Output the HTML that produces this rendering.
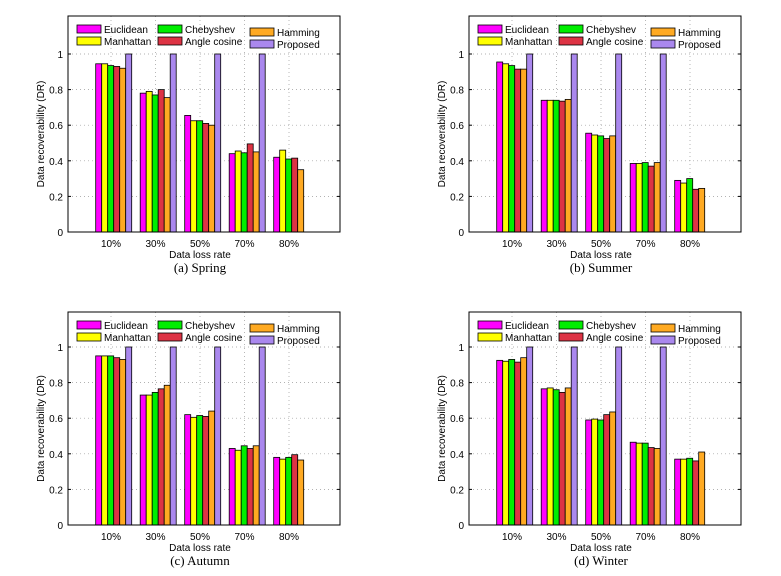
<!DOCTYPE html>
<html><head><meta charset="utf-8"><style>
body{margin:0;background:#fff;overflow:hidden;}
svg{display:block;font-family:"Liberation Sans",Arial,sans-serif;}
</style></head><body>
<svg id="fig" width="781" height="576" viewBox="0 0 781 576"></svg>
<script>
const categories = ["10%","30%","50%","70%","80%"];
const seriesNames = ["Euclidean","Manhattan","Chebyshev","Angle cosine","Hamming","Proposed"];
const yTicks = [0,0.2,0.4,0.6,0.8,1];
const yTickLabels = ["0","0.2","0.4","0.6","0.8","1"];
const springData = [
 [0.945,0.78,0.655,0.44,0.42],
 [0.945,0.79,0.625,0.455,0.46],
 [0.935,0.77,0.625,0.445,0.41],
 [0.93,0.80,0.61,0.495,0.415],
 [0.92,0.755,0.60,0.45,0.35],
 [1,1,1,1,0]];
const summerData = [
 [0.955,0.74,0.555,0.385,0.29],
 [0.945,0.74,0.545,0.385,0.275],
 [0.935,0.74,0.54,0.39,0.30],
 [0.915,0.735,0.525,0.37,0.24],
 [0.915,0.745,0.54,0.39,0.245],
 [1,1,1,1,0]];
const autumnData = [
 [0.95,0.73,0.62,0.43,0.38],
 [0.95,0.73,0.605,0.42,0.37],
 [0.95,0.745,0.615,0.445,0.38],
 [0.94,0.765,0.61,0.43,0.395],
 [0.93,0.785,0.64,0.445,0.365],
 [1,1,1,1,0]];
const winterData = [
 [0.925,0.765,0.59,0.465,0.37],
 [0.92,0.77,0.595,0.46,0.37],
 [0.93,0.76,0.59,0.46,0.375],
 [0.915,0.745,0.62,0.435,0.36],
 [0.94,0.77,0.635,0.43,0.41],
 [1,1,1,1,0]];
const panelCaptions = ["(a)  Spring","(b)  Summer","(c)  Autumn","(d)  Winter"];
const panelNames = ["spring","summer","autumn","winter"];
const allData = [springData,summerData,autumnData,winterData];
const colors = ["#ff00ff","#ffff00","#00ee00","#dd3344","#ffaa22","#aa88ee"];
const panels = [
 {l:68,r:340,t:16,z:232},{l:469,r:741,t:16,z:232},
 {l:68,r:340,t:312,z:525},{l:469,r:741,t:312,z:525}];
const NS="http://www.w3.org/2000/svg";
const svg=document.getElementById('fig');
function mk(tag,attrs,parent){const e=document.createElementNS(NS,tag);for(const k in attrs)e.setAttribute(k,attrs[k]);parent.appendChild(e);return e;}
panels.forEach((p,pi)=>{
 const g=mk('g',{},svg);
 
 
 const ys=v=>p.z-v*178;
 const tickX=i=>p.l+43+i*44.5;
 const barW=6;
 yTicks.forEach((t,i)=>{
  if(t>0){const gl=mk('line',{x1:p.l,x2:p.r,y1:ys(t),y2:ys(t),stroke:'#999','stroke-width':0.7,'stroke-dasharray':'1,3'},g);
   }
  mk('line',{x1:p.l,x2:p.l+3,y1:ys(t),y2:ys(t),stroke:'#000'},g);
  mk('line',{x1:p.r,x2:p.r-3,y1:ys(t),y2:ys(t),stroke:'#000'},g);
  const tl=mk('text',{x:p.l-5,y:ys(t)+4,'text-anchor':'end','font-size':10},g);
  tl.textContent=yTickLabels[i];
  
 });
 categories.forEach((c,i)=>{
  const x=tickX(i);
  const vl=mk('line',{x1:x,x2:x,y1:p.t,y2:p.z,stroke:'#999','stroke-width':0.7,'stroke-dasharray':'1,3'},g);
  
  const tl=mk('text',{x:x,y:p.z+15,'text-anchor':'middle','font-size':10},g);
  tl.textContent=c;
  
 });
 const data=allData[pi];
 data.forEach((ser,si)=>{
  ser.forEach((v,ci)=>{
   if(v<=0)return;
   const cx=tickX(ci)+2.7;
   const x=cx-3*barW+si*barW;
   const b=mk('rect',{x:x,y:ys(v),width:barW,height:p.z-ys(v),fill:colors[si],stroke:'#000','stroke-width':0.8},g);
   
   
  });
 });
 const bx=mk('rect',{x:p.l,y:p.t,width:p.r-p.l,height:p.z-p.t,fill:'none',stroke:'#000','stroke-width':1},g);
 
 const lg=mk('g',{},g);
 
 const lpos=[[9,13],[9,25],[90,13],[90,25],[182,16],[182,28]];
 seriesNames.forEach((n,si)=>{
  const [dx,dy]=lpos[si];
  const sw=mk('rect',{x:p.l+dx,y:p.t+dy-4,width:24,height:8,fill:colors[si],stroke:'#000','stroke-width':0.8},lg);
  
  const t=mk('text',{x:p.l+dx+27,y:p.t+dy+4,'font-size':10},lg);
  t.textContent=n;
  
 });
 const yl=mk('text',{x:0,y:0,'font-size':10,'text-anchor':'middle',transform:`translate(${p.l-24},${(p.t+p.z)/2+10}) rotate(-90)`},g);
 yl.textContent='Data recoverability (DR)';
 
 const xl=mk('text',{x:(p.l+p.r)/2-4,y:p.z+26,'font-size':10,'text-anchor':'middle'},g);
 xl.textContent='Data loss rate';
 
 const cap=mk('text',{x:(p.l+p.r)/2-4,y:p.z+40,'font-size':13,'text-anchor':'middle','font-family':'Liberation Serif,serif'},g);
 cap.textContent=panelCaptions[pi];
 
});
</script>
</body></html>
